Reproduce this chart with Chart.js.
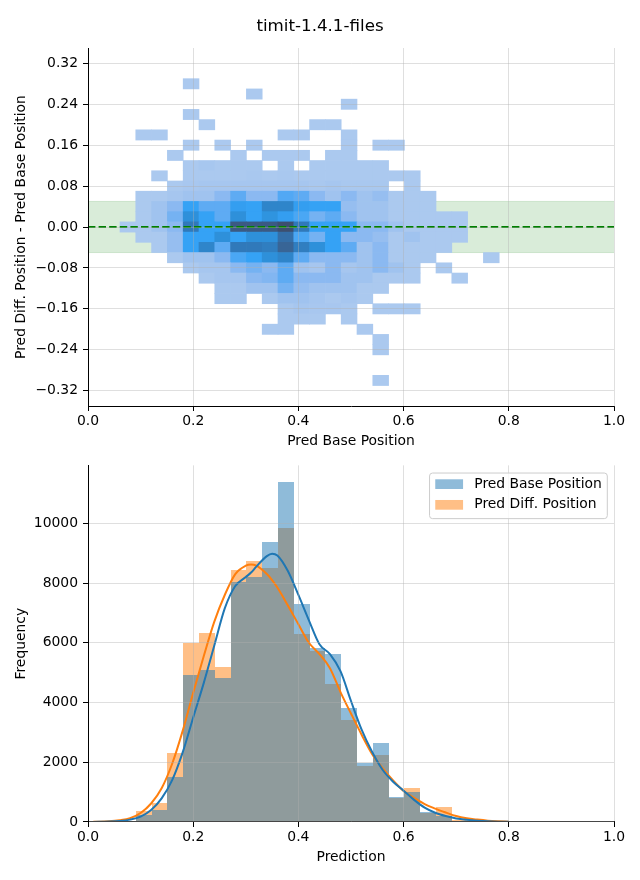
<!DOCTYPE html>
<html>
<head>
<meta charset="utf-8">
<title>timit-1.4.1-files</title>
<script src="https://cdn.jsdelivr.net/npm/chart.js@4.4.1/dist/chart.umd.min.js"></script>
<style>
    html, body { margin: 0; padding: 0; background: #fff; }
    #page { position: relative; width: 640px; height: 880px; overflow: hidden; }
    #heat { position: absolute; left: 0; top: 0; }
    #hist { position: absolute; left: 0; top: 452px; }
    #suptitle {
        position: absolute; left: 0; top: 16px; width: 640px;
        text-align: center; font: 16.7px 'DejaVu Sans'; line-height: 19px; color: #000;
    }
</style>
</head>
<body>
<div id="page">
    <canvas id="heat" width="640" height="452"></canvas>
    <canvas id="hist" width="640" height="428"></canvas>
    <div id="suptitle">timit-1.4.1-files</div>
</div>
<script>
// Общие бины по оси X (Pred Base Position)
const xBinStart = 0.0608;
const xBinWidth = 0.03004;

// Центры бинов по оси Y для 2D-гистограммы (сверху вниз)
const yBinCenters = [0.28, 0.26, 0.24, 0.22, 0.20, 0.18, 0.16, 0.14, 0.12, 0.10,
    0.08, 0.06, 0.04, 0.02, 0.00, -0.02, -0.04, -0.06, -0.08, -0.10,
    -0.12, -0.14, -0.16, -0.18, -0.20, -0.22, -0.24, -0.26, -0.28, -0.30];
const yBinHeight = 0.02;

// Уровни плотности ячеек (0 = пусто), строки как в yBinCenters, 24 столбца
const cellLevels = [
    [0,0,0,0,1,0,0,0,0,0,0,0,0,0,0,0,0,0,0,0,0,0,0,0],
    [0,0,0,0,0,0,0,0,1,0,0,0,0,0,0,0,0,0,0,0,0,0,0,0],
    [0,0,0,0,0,0,0,0,0,0,0,0,0,0,1,0,0,0,0,0,0,0,0,0],
    [0,0,0,0,1,0,0,0,0,0,0,0,0,0,0,0,0,0,0,0,0,0,0,0],
    [0,0,0,0,0,1,0,0,0,0,0,0,1,1,0,0,0,0,0,0,0,0,0,0],
    [0,1,1,0,0,0,0,0,0,0,1,1,0,0,1,0,0,0,0,0,0,0,0,0],
    [0,0,0,0,1,0,1,0,1,0,0,0,0,0,1,0,1,1,0,0,0,0,0,0],
    [0,0,0,1,0,0,0,1,0,1,1,1,0,1,1,0,0,0,0,0,0,0,0,0],
    [0,0,0,0,1,1.4,1,1,1,0,1,0,1,1,1,1,1,0,0,0,0,0,0,0],
    [0,0,1,0,1,1,1,1,1.2,1,1.2,1,1,1,1,1,1,1,1,0,0,0,0,0],
    [0,0,0,1,1.3,1.5,1.5,1.5,1.5,1.5,1.5,1.5,1.2,1.5,1.2,1.2,1.2,0,1,0,0,0,0,0],
    [0,1,1,1.5,2,2,3,4,3,3,4.3,4,3,2,3,2,2.5,1,1,1,0,0,0,0],
    [0,1,2,3,5,4,4,5.2,5,6.5,6.5,5.2,5,5,2.5,2,2,1,1,1,0,0,0,0],
    [0,1,2,3.5,6,5,4,6,5,5.8,5.2,4.5,3.5,4,3,2,2,1,1,1,1,1,0,0],
    [1,1,2,3,7,5,5,8.5,8.5,8.5,9,7,5,5,5,3,3,2,1,1,1,1,0,0],
    [0,1,1,2.5,5,5,6,5,6,6,7.5,4.5,3.5,5,3,3,2.5,1,2,1,1,1,0,0],
    [0,0,1,2.5,5,6.5,4,7,7,6.8,8,6.8,6,5,4,2,3,1,1,1,1,0,0,0],
    [0,0,0,1,2,2,3,4.5,5,6,6.5,4,3,3,3,2,3,1,1,1,0,0,0,1],
    [0,0,0,0,1,1.5,1.5,3,3.5,3,4,2,1.5,3,1.5,2,3,2,1,0,1,0,0,0],
    [0,0,0,0,0,1,1.5,1.5,3,3.2,4,3,3,3,2,2,1,1,1,0,0,1,0,0],
    [0,0,0,0,0,0,1,1,2,2,3.5,2.5,2,2,2,1,1,0,0,0,0,0,0,0],
    [0,0,0,0,0,0,1,1,0,1,2,2,1.5,1,1.5,1,0,0,0,0,0,0,0,0],
    [0,0,0,0,0,0,0,0,0,0,1,1.5,1.3,1.3,1,0,1,1,1,0,0,0,0,0],
    [0,0,0,0,0,0,0,0,0,0,1,1,1,0,1,0,0,0,0,0,0,0,0,0],
    [0,0,0,0,0,0,0,0,0,1,1,0,0,0,0,1,0,0,0,0,0,0,0,0],
    [0,0,0,0,0,0,0,0,0,0,0,0,0,0,0,0,1,0,0,0,0,0,0,0],
    [0,0,0,0,0,0,0,0,0,0,0,0,0,0,0,0,1,0,0,0,0,0,0,0],
    [0,0,0,0,0,0,0,0,0,0,0,0,0,0,0,0,0,0,0,0,0,0,0,0],
    [0,0,0,0,0,0,0,0,0,0,0,0,0,0,0,0,0,0,0,0,0,0,0,0],
    [0,0,0,0,0,0,0,0,0,0,0,0,0,0,0,0,1,0,0,0,0,0,0,0]
];

// Допуск ±0.05 и опорная линия
const bandLow = -0.05;
const bandHigh = 0.05;
const refLine = 0;

// Деления осей
const xTicks = [0, 0.2, 0.4, 0.6, 0.8, 1.0];
const yTicksHeat = [-0.32, -0.24, -0.16, -0.08, 0, 0.08, 0.16, 0.24, 0.32];
const yTicksHist = [0, 2000, 4000, 6000, 8000, 10000];

// Гистограммы предсказаний (по тем же бинам X)
const basePosCounts = [30, 220, 410, 1520, 4910, 5080, 4820, 8020, 8210, 9370, 11370, 7300,
    5830, 5640, 3810, 1990, 2640, 850, 1010, 330, 190, 40, 10];
const diffPosCounts = [40, 370, 620, 2310, 6000, 6340, 5200, 8440, 8740, 8490, 9840, 6280,
    5740, 4620, 3410, 1880, 2240, 820, 1140, 300, 510, 60, 20];

// KDE-кривые
const kdeX = [0.01, 0.04, 0.06, 0.08, 0.10, 0.12, 0.14, 0.16, 0.18, 0.20, 0.22, 0.24, 0.26, 0.28,
    0.30, 0.31, 0.32, 0.34, 0.35, 0.36, 0.38, 0.40, 0.42, 0.44, 0.46, 0.48, 0.50, 0.52, 0.54,
    0.56, 0.58, 0.60, 0.62, 0.64, 0.66, 0.68, 0.70, 0.72, 0.74, 0.76, 0.78, 0.80];
const basePosKde = [3, 15, 35, 80, 180, 400, 790, 1400, 2330, 3500, 4650, 5900, 7150, 7900,
    8200, 8350, 8550, 8900, 8980, 8920, 8400, 7600, 6750, 5950, 5620, 5050, 4050, 3100, 2350,
    1750, 1350, 1050, 740, 480, 310, 200, 120, 75, 45, 25, 12, 5];
const diffPosKde = [5, 25, 60, 130, 300, 620, 1130, 1950, 3050, 4330, 5550, 6700, 7600, 8300,
    8580, 8620, 8580, 8300, 8100, 7850, 7250, 6620, 6000, 5620, 5150, 4350, 3630, 2930, 2280,
    1800, 1390, 1040, 810, 600, 450, 320, 200, 125, 80, 45, 25, 12];

const histMax = 11940;

const labelFont = { family: 'DejaVu Sans', size: 13.9 };
const gridColor = 'rgba(176, 176, 176, 0.5)';
const levelColors = ['#abc9ef', '#a0c3ef', '#8bb9f1', '#5eabf3', '#35a2f5',
    '#2e90da', '#3079ba', '#386596', '#3d4f6f'];

/**
 * Переводит hex-цвет в массив [r, g, b]
 * @param {string} hex
 */
function hexRgb(hex) {
    const n = parseInt(hex.slice(1), 16);
    return [(n >> 16) & 255, (n >> 8) & 255, n & 255];
}

/**
 * Цвет ячейки по уровню плотности (светлый -> насыщенный -> тёмный)
 * @param {number} level
 */
function cellColor(level) {
    const t = Math.min(Math.max(level, 1), levelColors.length) - 1;
    const i = Math.min(Math.floor(t), levelColors.length - 2);
    const f = t - i;
    const a = hexRgb(levelColors[i]);
    const b = hexRgb(levelColors[i + 1]);
    const c = a.map((v, k) => Math.round(v + (b[k] - v) * f));
    return `rgb(${c[0]}, ${c[1]}, ${c[2]})`;
}

function binCenter(k) {
    return xBinStart + (k + 0.5) * xBinWidth;
}

function minusFmt(v, digits) {
    return (v < 0 ? '\u2212' : '') + Math.abs(v).toFixed(digits);
}

// Ячейки 2D-гистограммы как плавающие столбцы
const cellPoints = [];
const cellColors = [];
yBinCenters.forEach((yc, r) => {
    cellLevels[r].forEach((lvl, c) => {
        if (!lvl) return;
        cellPoints.push({ x: binCenter(c), y: [yc - yBinHeight / 2, yc + yBinHeight / 2] });
        cellColors.push(cellColor(lvl));
    });
});

/**
 * Общие настройки осей
 */
function axisX(title, height, titlePad) {
    return {
        type: 'linear', min: 0, max: 1, offset: false,
        afterBuildTicks: s => { s.ticks = xTicks.map(v => ({ value: v })); },
        afterFit: s => { s.height = height; },
        grid: { offset: false, color: gridColor, lineWidth: 0.8, tickColor: '#000', tickLength: 5, tickWidth: 1, z: 1 },
        border: { color: '#000', width: 1, z: 1 },
        ticks: { color: '#000', font: labelFont, padding: 2, maxRotation: 0, autoSkip: false, callback: v => v.toFixed(1) },
        title: { display: true, text: title, color: '#000', font: labelFont, padding: { top: 0, bottom: titlePad } }
    };
}

function axisY(title, min, max, ticks, fmt) {
    return {
        type: 'linear', min: min, max: max,
        afterBuildTicks: s => { s.ticks = ticks.map(v => ({ value: v })); },
        afterFit: s => { s.width = 88; },
        grid: { color: gridColor, lineWidth: 0.8, tickColor: '#000', tickLength: 5, tickWidth: 1, z: 1 },
        border: { color: '#000', width: 1, z: 1 },
        ticks: { color: '#000', font: labelFont, padding: 5, autoSkip: false, callback: fmt },
        title: { display: true, text: title, color: '#000', font: labelFont, padding: { top: 13.4, bottom: 0 } }
    };
}

// Привязка краёв столбцов к целым пикселям (без полос между полупрозрачными столбцами)
const snapBars = {
    id: 'snapBars',
    afterDatasetUpdate(chart, args) {
        const meta = args.meta;
        if (meta.type !== 'bar') return;
        meta.data.forEach(el => {
            const l = Math.round(el.x - el.width / 2);
            const r = Math.round(el.x + el.width / 2);
            el.x = (l + r) / 2;
            el.width = r - l;
            el.y = Math.round(el.y);
            el.base = Math.round(el.base);
        });
    }
};

// Легенда в рамке в правом верхнем углу
const boxLegend = {
    id: 'boxLegend',
    afterDraw(chart) {
        const { ctx, chartArea } = chart;
        const items = chart.data.datasets.filter(d => d.type === 'bar');
        ctx.save();
        ctx.font = `${labelFont.size}px ${labelFont.family}`;
        const textW = Math.max(...items.map(d => ctx.measureText(d.label).width));
        const w = 5.6 + 27.8 + 11.1 + textW + 5.6;
        const h = 45.6;
        const x0 = chartArea.right - 6.7 - w;
        const y0 = chartArea.top + 7.7;
        ctx.beginPath();
        ctx.roundRect(x0, y0, w, h, 3);
        ctx.fillStyle = 'rgba(255, 255, 255, 0.8)';
        ctx.fill();
        ctx.strokeStyle = '#cccccc';
        ctx.lineWidth = 1;
        ctx.stroke();
        items.forEach((d, i) => {
            const cy = y0 + 11.1 + i * 20.7;
            ctx.fillStyle = d.backgroundColor;
            ctx.fillRect(x0 + 5.7, cy - 4.85, 27.8, 9.7);
            ctx.fillStyle = '#000';
            ctx.textBaseline = 'middle';
            ctx.fillText(d.label, x0 + 44.7, cy);
        });
        ctx.restore();
    }
};

Chart.defaults.font.family = 'DejaVu Sans';

new Chart(document.getElementById('heat'), {
    type: 'bar',
    data: {
        datasets: [
            {
                type: 'line', data: [{ x: 0, y: refLine }, { x: 1, y: refLine }],
                borderColor: 'green', borderWidth: 2, borderDash: [7.4, 3.2], pointRadius: 0, order: 0
            },
            {
                type: 'bar', data: cellPoints, backgroundColor: cellColors,
                barPercentage: 1, categoryPercentage: 1, order: 1
            },
            {
                type: 'line', data: [{ x: 0, y: bandHigh }, { x: 1, y: bandHigh }],
                borderColor: 'rgba(0, 128, 0, 0.15)', borderWidth: 1,
                backgroundColor: 'rgba(0, 128, 0, 0.15)', fill: { value: bandLow }, pointRadius: 0, order: 2
            },
            {
                type: 'line', data: [{ x: 0, y: bandLow }, { x: 1, y: bandLow }],
                borderColor: 'rgba(0, 128, 0, 0.15)', borderWidth: 1, pointRadius: 0, order: 3
            }
        ]
    },
    options: {
        responsive: false, animation: false, devicePixelRatio: 1,
        layout: { padding: { top: 48, right: 26, left: 0, bottom: 0 } },
        plugins: { legend: { display: false }, tooltip: { enabled: false } },
        scales: {
            x: axisX('Pred Base Position', 46, 2.5),
            y: axisY('Pred Diff. Position - Pred Base Position', -0.35, 0.35, yTicksHeat, v => minusFmt(v, 2))
        }
    }
});

new Chart(document.getElementById('hist'), {
    type: 'bar',
    data: {
        datasets: [
            {
                type: 'line', label: 'Pred Base Position KDE',
                data: kdeX.map((x, i) => ({ x: x, y: basePosKde[i] })),
                borderColor: '#1f77b4', borderWidth: 2, pointRadius: 0,
                cubicInterpolationMode: 'monotone', order: 0
            },
            {
                type: 'line', label: 'Pred Diff. Position KDE',
                data: kdeX.map((x, i) => ({ x: x, y: diffPosKde[i] })),
                borderColor: '#ff7f0e', borderWidth: 2, pointRadius: 0,
                cubicInterpolationMode: 'monotone', order: 1
            },
            {
                type: 'bar', label: 'Pred Base Position',
                data: basePosCounts.map((c, k) => ({ x: binCenter(k), y: c })),
                backgroundColor: 'rgba(31, 119, 180, 0.5)', inflateAmount: 0,
                barPercentage: 1, categoryPercentage: 1, grouped: false, order: 2
            },
            {
                type: 'bar', label: 'Pred Diff. Position',
                data: diffPosCounts.map((c, k) => ({ x: binCenter(k), y: c })),
                backgroundColor: 'rgba(255, 127, 14, 0.5)', inflateAmount: 0,
                barPercentage: 1, categoryPercentage: 1, grouped: false, order: 3
            }
        ]
    },
    options: {
        responsive: false, animation: false, devicePixelRatio: 1,
        layout: { padding: { top: 12, right: 26, left: 0, bottom: 0 } },
        plugins: { legend: { display: false }, tooltip: { enabled: false } },
        scales: {
            x: axisX('Prediction', 58, 14.2),
            y: axisY('Frequency', 0, histMax, yTicksHist, v => String(v))
        }
    },
    plugins: [snapBars, boxLegend]
});
</script>
</body>
</html>
